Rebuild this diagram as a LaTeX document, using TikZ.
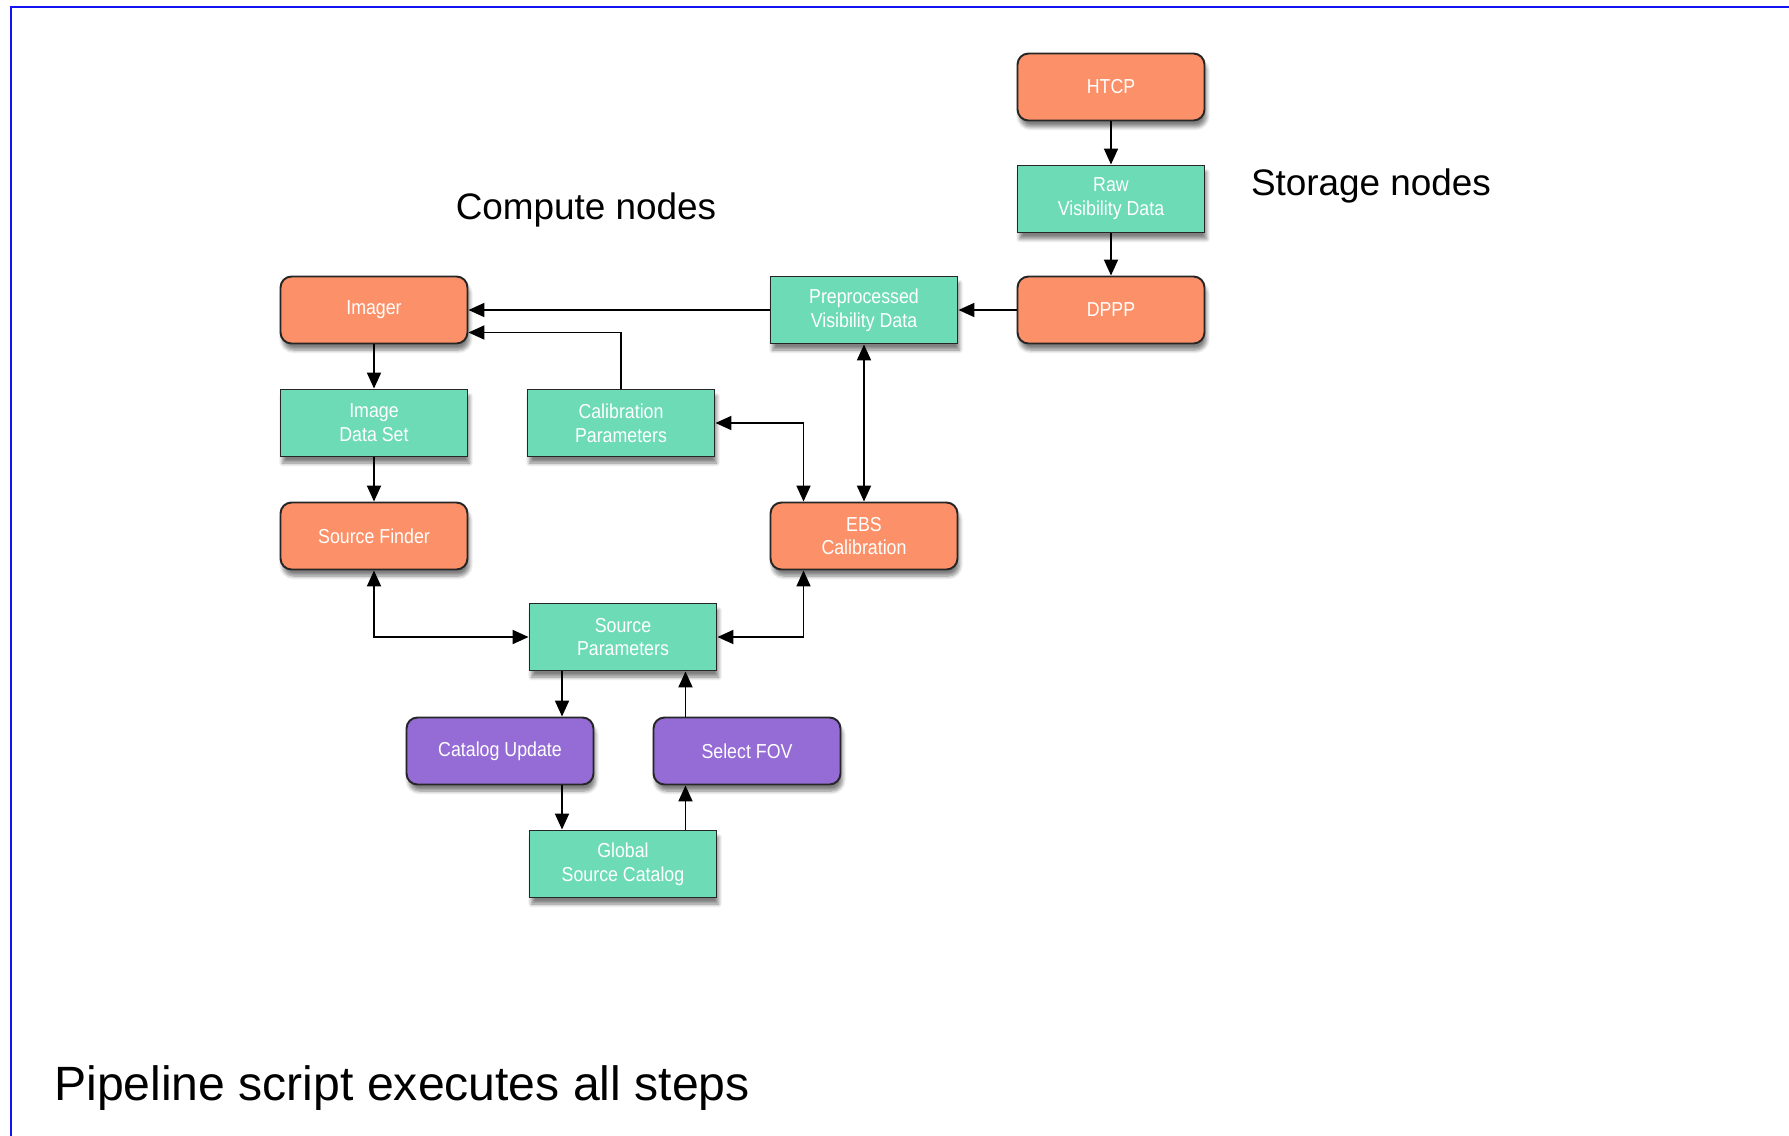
\documentclass[tikz,border=0pt]{standalone}
\usepackage{fontspec}
\setmainfont{Liberation Sans}
\newfontfamily\boxfont[FakeStretch=0.88]{Liberation Sans}
\usepackage{xcolor}
\usepackage{tikz}
\usetikzlibrary{
  arrows.meta,
  positioning,
  calc,
  shadows.blur
}
\definecolor{taskcolor}{HTML}{FC9068}
\definecolor{datacolor}{HTML}{6DDBB6}
\definecolor{catcolor}{HTML}{956CD6}
\definecolor{framecolor}{HTML}{1414F0}

\begin{document}
\begin{tikzpicture}[
  x=0.02cm, y=-0.02cm,
  box/.style={draw=black!85, line width=1.1pt, minimum width=3.74cm,
              minimum height=1.34cm, inner sep=0pt, align=center,
              text=white, font=\boxfont\fontsize{11.5}{13.5}\selectfont,
              blur shadow={shadow xshift=0.04cm, shadow yshift=-0.13cm,
                           shadow opacity=50, shadow blur steps=6}},
  task/.style={box, fill=taskcolor, rounded corners=0.22cm},
  store/.style={box, fill=datacolor},
  catalog/.style={box, fill=catcolor, rounded corners=0.22cm},
  caption/.style={font=\fontsize{21}{24}\selectfont},
  flow/.style={draw=black, line width=1.1pt,
               -{Triangle[length=0.32cm, width=0.28cm]}},
  both/.style={flow, {Triangle[length=0.32cm, width=0.28cm]}-{Triangle[length=0.32cm, width=0.28cm]}}
]
  \useasboundingbox (0,0) rectangle (1789,1136);

  % Slide frame (only top and left edges are in view)
  \draw[framecolor, line width=1.4pt] (11,1136) -- (11,7) -- (1789,7);

  % Storage side
  \node[task]  at (1111,87)  (htcp)   {HTCP};
  \node[store] at (1111,199) (rawvis) {Raw\\Visibility Data};
  \node[task]  at (1111,310) (dppp)   {DPPP};

  % Compute side
  \node[store] at (864,310) (previs)  {Preprocessed\\Visibility Data};
  \node[task]  at (374,310) (imager)  {Imager};
  \node[store] at (374,423) (imgdata) {Image\\Data Set};
  \node[store] at (621,423) (calpar)  {Calibration\\Parameters};
  \node[task]  at (374,536) (finder)  {Source Finder};
  \node[task]  at (864,536) (ebscal)  {EBS\\Calibration};
  \node[store] at (623,637) (srcpar)  {Source\\Parameters};
  \node[catalog] at (500,751) (catup) {Catalog Update};
  \node[catalog] at (747,751) (selfov) {Select FOV};
  \node[store] at (623,864) (gsc)     {Global\\Source Catalog};

  % Labels
  \node[caption] at (586,210)  (computelbl) {Compute nodes};
  \node[caption] at (1371,186) (storagelbl) {Storage nodes};
  \node[font=\fontsize{27.4}{30}\selectfont, anchor=west] at (48,1088) (pipelbl)
    {Pipeline script executes all steps};

  % Connectors
  \draw[flow] (htcp) -- (rawvis);
  \draw[flow] (rawvis) -- (dppp);
  \draw[flow] (dppp) -- (previs);
  \draw[flow] (previs) -- (imager);
  \draw[flow] (calpar.north) |- ([yshift=-0.45cm]imager.east);
  \draw[flow] (imager) -- (imgdata);
  \draw[flow] (imgdata) -- (finder);
  \draw[both] (previs) -- (ebscal);
  \draw[both] (calpar.east) -| ([xshift=-1.21cm]ebscal.north);
  \draw[both] (finder.south) |- (srcpar.west);
  \draw[both] ([xshift=-1.21cm]ebscal.south) |- (srcpar.east);

  \coordinate (catx) at ([xshift=-1.22cm]srcpar.south);
  \coordinate (fovx) at ([xshift=1.25cm]gsc.north);
  \draw[flow] (catx) -- (catx |- catup.north);
  \draw[flow] (catx |- catup.south) -- (catx |- gsc.north);
  \draw[flow] (fovx) -- (fovx |- selfov.south);
  \draw[flow] (fovx |- selfov.north) -- (fovx |- srcpar.south);

\end{tikzpicture}
\end{document}
